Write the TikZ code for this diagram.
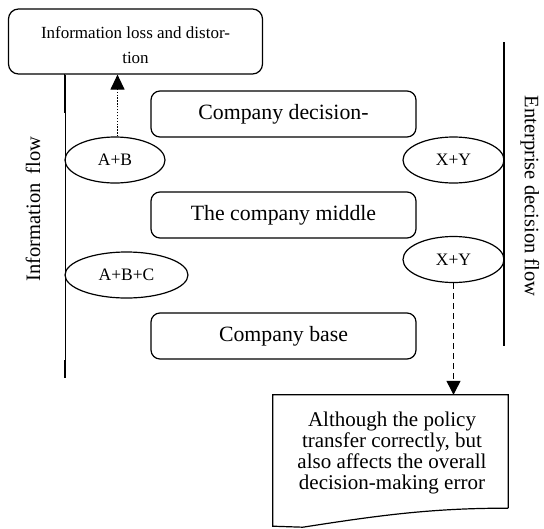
\documentclass[tikz,border=0pt]{standalone}
\usepackage{fontspec}
\setmainfont{Liberation Serif}
\usetikzlibrary{shapes.geometric,arrows.meta}
\begin{document}
\begin{tikzpicture}[x=1pt,y=-1pt,
  rbox/.style={draw,line width=1.2pt,rounded corners=9pt,minimum width=265pt,minimum height=46pt,inner sep=0pt,font=\fontsize{21.8}{23}\selectfont},
  ell/.style={draw,ellipse,line width=1.2pt,minimum height=46pt,inner sep=0pt,font=\fontsize{17.5}{19}\selectfont},
  flowline/.style={line width=1.1pt},
  sidetext/.style={font=\fontsize{20.5}{22}\selectfont,inner sep=0pt}]
\useasboundingbox (0,0) rectangle (544,528);
% top box
\node[draw,line width=1.2pt,rounded corners=10pt,minimum width=254pt,minimum height=65pt,inner sep=0pt] (top) at (135.5,41.5) {};
\node[inner sep=0pt,align=center,font=\fontsize{17}{25}\selectfont] (toptext) at (135.5,45.5) {Information loss and distor-\\tion};
% company boxes
\node[rbox] (dec) at (283.5,114) {Company decision-};
\node[rbox] (mid) at (283.5,215) {The company middle};
\node[rbox] (base) at (283.5,336) {Company base};
% ellipses
\node[ell,minimum width=100pt] (ab) at (115,160) {A+B};
\node[ell,minimum width=123pt] (abc) at (126.5,275) {A+B+C};
\node[ell,minimum width=101pt] (xy1) at (453.5,160) {X+Y};
\node[ell,minimum width=101pt] (xy2) at (453.5,259.5) {X+Y};
% left flow line
\coordinate (lb) at (65.5,378);
\draw[line width=0.7pt] (top.south -| lb) -- (lb);
\draw[line width=1.3pt] (64.3,74) -- (64.3,113);
\draw[line width=1.3pt] (64.3,360) -- (64.3,378);
% right flow line
\coordinate (rt) at (504,42);
\coordinate (rb) at (504,346);
\draw[flowline] (rt) -- (rb);
% side labels
\node[sidetext,rotate=90] (inf) at (33,209) {Information\hspace{0.45em}flow};
\node[sidetext,rotate=-90] (ent) at (530,196) {Enterprise decision flow};
% document box
\node[minimum width=235pt,minimum height=113pt,inner sep=0pt] (doc) at (390.5,451.5) {};
\node[inner sep=0pt,align=center,font=\fontsize{21}{21.3}\selectfont] (doctext) at (392,453) {Although the policy\\transfer correctly, but\\also affects the overall\\decision-making error};
\draw[line width=1.2pt] (doc.south east) -- (doc.north east) -- (doc.north west) -- ([yshift=-18pt]doc.south west) -- ([xshift=30pt,yshift=-19pt]doc.south west) .. controls (375,516) and (430,508) .. (doc.south east);
% arrows
\draw[line width=1.2pt,dash pattern=on 1.3pt off 1.6pt,-{Triangle[length=15pt,width=14pt]}] (ab.north -| 117.5,0) -- (top.south -| 117.5,0);
\draw[line width=1.2pt,dash pattern=on 6pt off 4pt,-{Triangle[length=14pt,width=14pt]}] (xy2.south) -- (xy2.south |- doc.north);
\end{tikzpicture}
\end{document}
